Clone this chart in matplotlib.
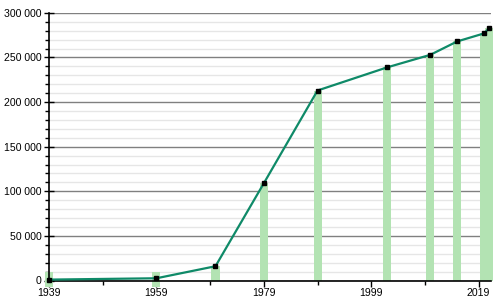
import matplotlib.pyplot as plt
from matplotlib.ticker import MultipleLocator, FuncFormatter

years = [1939, 1959, 1970, 1979, 1989, 2002, 2010, 2015, 2020, 2021]
population = [1000, 2500, 16000, 109000, 213000, 239000, 253000, 268000, 277000, 283000]
xticks = [1939, 1959, 1979, 1999, 2019]

plt.rcParams['font.family'] = ['Liberation Sans', 'DejaVu Sans']

fig = plt.figure(figsize=(5, 3), dpi=100)
ax = fig.add_axes([0.098, 0.065, 0.884, 0.892])

# bars (small values get a minimum visible height, as in the original)
for x, v in zip(years, population):
    if v < 10000:
        ax.bar(x, 16000, bottom=-7000, width=1.5, color='#b3e3b3', zorder=1, clip_on=False)
    else:
        ax.bar(x, v, width=1.5, color='#b3e3b3', zorder=1, clip_on=False)

ax.plot(years, population, color='#0f8a68', lw=1.6, zorder=3, clip_on=False)
ax.plot(years, population, 's', color='black', ms=3.2, zorder=4, clip_on=False)

ax.set_xlim(1939, 2021.3)
ax.set_ylim(0, 300000)
ax.set_xticks(xticks)
ax.xaxis.set_minor_locator(MultipleLocator(10, offset=9))
ax.yaxis.set_major_locator(MultipleLocator(50000))
ax.yaxis.set_minor_locator(MultipleLocator(10000))
ax.yaxis.set_major_formatter(FuncFormatter(lambda v, p: f'{int(v):,}'.replace(',', ' ')))

ax.grid(axis='y', which='major', color='#808080', lw=1, zorder=0)
ax.grid(axis='y', which='minor', color='#e6e6e6', lw=1, zorder=0)
ax.set_axisbelow(True)

for s in ['top', 'right']:
    ax.spines[s].set_visible(False)
ax.spines['left'].set_linewidth(1.2)
ax.spines['bottom'].set_linewidth(1.2)
ax.spines['bottom'].set_zorder(2.5)

ax.tick_params(axis='y', which='major', direction='inout', length=7, width=1, labelsize=7.6, pad=2)
ax.tick_params(axis='y', which='minor', direction='out', length=3, width=1)
ax.tick_params(axis='x', which='major', direction='out', length=4, width=1, labelsize=7.6, pad=1.5)
ax.tick_params(axis='x', which='minor', direction='out', length=3, width=1)

fig.savefig('out.png', dpi=100)
